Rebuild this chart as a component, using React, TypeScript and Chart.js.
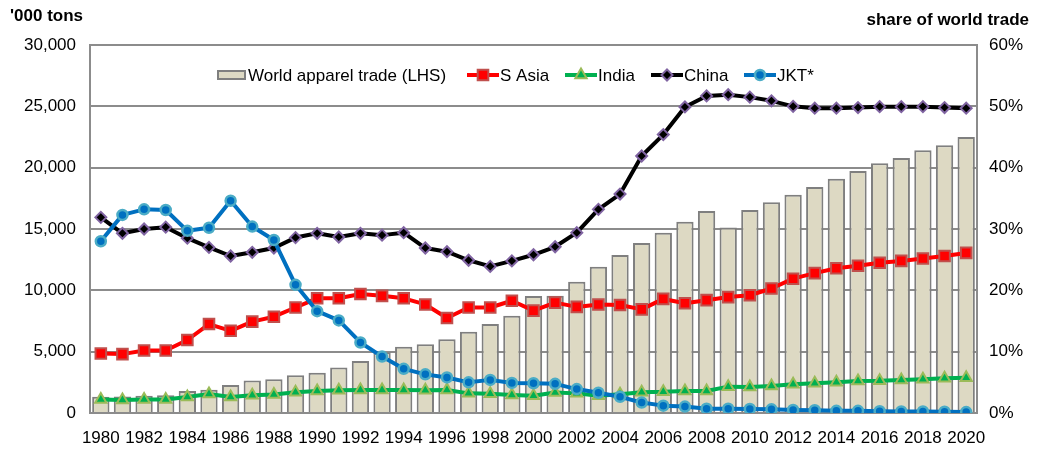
import React, { useEffect, useRef } from "react";
import { Chart, registerables } from "chart.js";

Chart.register(...registerables);

const FONT = '"Liberation Sans", Arial, Helvetica, sans-serif';

const years = [
  "1980", "1981", "1982", "1983", "1984", "1985", "1986", "1987", "1988", "1989",
  "1990", "1991", "1992", "1993", "1994", "1995", "1996", "1997", "1998", "1999",
  "2000", "2001", "2002", "2003", "2004", "2005", "2006", "2007", "2008", "2009",
  "2010", "2011", "2012", "2013", "2014", "2015", "2016", "2017", "2018", "2019", "2020",
];

const xTickYears = [
  "1980", "1982", "1984", "1986", "1988", "1990", "1992", "1994", "1996", "1998",
  "2000", "2002", "2004", "2006", "2008", "2010", "2012", "2014", "2016", "2018", "2020",
];

// World apparel trade, '000 tons (LHS)
const worldTrade = [
  1330, 1350, 1400, 1450, 1790, 1900, 2280, 2640, 2750, 3070,
  3290, 3700, 4240, 4950, 5400, 5600, 6010, 6630, 7260, 7930,
  9540, 9560, 10700, 11930, 12880, 13850, 14700, 15600, 16470, 15120,
  16550, 17190, 17800, 18420, 19100, 19730, 20350, 20790, 21410, 21820, 22500,
];

// Shares of world trade, % (RHS)
const sAsia = [
  9.7, 9.6, 10.2, 10.2, 11.9, 14.5, 13.4, 14.9, 15.7, 17.2,
  18.7, 18.7, 19.4, 19.1, 18.7, 17.7, 15.5, 17.2, 17.2, 18.3,
  16.7, 18.0, 17.3, 17.7, 17.6, 16.9, 18.6, 17.9, 18.4, 18.9,
  19.2, 20.3, 21.9, 22.8, 23.6, 24.0, 24.5, 24.8, 25.2, 25.6, 26.1,
];

const india = [
  2.2, 2.1, 2.2, 2.2, 2.6, 3.1, 2.6, 2.9, 3.0, 3.4,
  3.6, 3.7, 3.75, 3.75, 3.75, 3.7, 3.75, 3.2, 3.15, 2.95,
  2.8, 3.35, 3.2, 2.8, 3.05, 3.4, 3.45, 3.6, 3.6, 4.3,
  4.25, 4.4, 4.7, 4.85, 5.0, 5.2, 5.25, 5.4, 5.5, 5.65, 5.75,
];

const china = [
  31.9, 29.3, 30.0, 30.3, 28.5, 27.0, 25.6, 26.2, 26.9, 28.6,
  29.3, 28.7, 29.3, 29.0, 29.4, 26.9, 26.3, 24.9, 23.9, 24.8,
  25.8, 27.1, 29.4, 33.2, 35.7, 41.9, 45.4, 49.9, 51.7, 51.9,
  51.5, 50.9, 50.0, 49.7, 49.7, 49.8, 49.95, 49.95, 49.95, 49.8, 49.7,
];

const jkt = [
  28.0, 32.3, 33.2, 33.1, 29.7, 30.2, 34.6, 30.4, 28.2, 20.9,
  16.6, 15.1, 11.5, 9.2, 7.2, 6.3, 5.8, 5.0, 5.4, 4.9,
  4.85, 4.75, 3.9, 3.3, 2.65, 1.7, 1.2, 1.05, 0.7, 0.7,
  0.65, 0.6, 0.5, 0.45, 0.35, 0.35, 0.3, 0.25, 0.25, 0.2, 0.15,
];

const leftMax = 30000;
const leftStep = 5000;
const rightMax = 60;
const rightStep = 10;

const seriesNames = ["World apparel trade (LHS)", "S Asia", "India", "China", "JKT*"];

const BAR_FILL = "#DDD9C3";
const BAR_BORDER = "#7F7F7F";
const GRID = "#8C8C8C";

const lineStyles = [
  { line: "#FF0000", fill: "#FF0000", border: "#C0504D", shape: "square", r: 7.5, bw: 2 },
  { line: "#00B050", fill: "#00B050", border: "#9BBB59", shape: "triangle", r: 6.5, bw: 2 },
  { line: "#000000", fill: "#000000", border: "#8064A2", shape: "diamond", r: 5.5, bw: 2 },
  { line: "#0070C0", fill: "#0070C0", border: "#4BACC6", shape: "circle", r: 5, bw: 2.5 },
];

const pointStyleMap: Record<string, string> = {
  square: "rect",
  triangle: "triangle",
  diamond: "rectRot",
  circle: "circle",
};

function drawMarker(ctx: CanvasRenderingContext2D, shape: string, x: number, y: number, r: number) {
  ctx.beginPath();
  if (shape === "square") {
    const s = Math.SQRT1_2 * r;
    ctx.rect(x - s, y - s, 2 * s, 2 * s);
  } else if (shape === "diamond") {
    ctx.moveTo(x, y - r);
    ctx.lineTo(x + r, y);
    ctx.lineTo(x, y + r);
    ctx.lineTo(x - r, y);
    ctx.closePath();
  } else if (shape === "triangle") {
    const w = Math.sin(Math.PI * 2 / 3) * r;
    ctx.moveTo(x, y - r);
    ctx.lineTo(x + w, y + r / 2);
    ctx.lineTo(x - w, y + r / 2);
    ctx.closePath();
  } else {
    ctx.arc(x, y, r, 0, Math.PI * 2);
  }
}

const plotBorderPlugin = {
  id: "plotBorder",
  beforeDatasetsDraw(chart: any) {
    const { ctx, chartArea } = chart;
    ctx.save();
    ctx.strokeStyle = GRID;
    ctx.lineWidth = 2;
    ctx.strokeRect(chartArea.left, chartArea.top, chartArea.right - chartArea.left, chartArea.bottom - chartArea.top);
    ctx.restore();
  },
};

const legendStarts = [217, 467, 565, 651, 744];

const overlayPlugin = {
  id: "overlay",
  afterDraw(chart: any) {
    const ctx: CanvasRenderingContext2D = chart.ctx;
    ctx.save();
    // axis titles
    ctx.fillStyle = "#000";
    ctx.font = `bold 17px ${FONT}`;
    ctx.textBaseline = "alphabetic";
    ctx.textAlign = "left";
    ctx.fillText("'000 tons", 10, 21);
    ctx.textAlign = "right";
    ctx.fillText("share of world trade", 1029, 25);

    // legend
    const y = 75;
    ctx.font = `17px ${FONT}`;
    ctx.textBaseline = "middle";
    ctx.textAlign = "left";
    seriesNames.forEach((name, i) => {
      let x = legendStarts[i];
      if (i === 0) {
        ctx.fillStyle = BAR_FILL;
        ctx.fillRect(x, y - 5, 29, 10);
        ctx.strokeStyle = BAR_BORDER;
        ctx.lineWidth = 2;
        ctx.strokeRect(x + 1, y - 4, 27, 8);
        x += 31;
      } else {
        const st = lineStyles[i - 1];
        ctx.strokeStyle = st.line;
        ctx.lineWidth = 4;
        ctx.beginPath();
        ctx.moveTo(x, y);
        ctx.lineTo(x + 32, y);
        ctx.stroke();
        drawMarker(ctx, st.shape, x + 16, y, st.r);
        ctx.fillStyle = st.fill;
        ctx.fill();
        ctx.lineWidth = st.bw;
        ctx.strokeStyle = st.border;
        ctx.stroke();
        x += 33;
      }
      ctx.fillStyle = "#000";
      ctx.fillText(name, x, y + 1);
    });
    ctx.restore();
  },
};

export default function App() {
  const canvasRef = useRef<HTMLCanvasElement | null>(null);

  useEffect(() => {
    document.body.style.margin = "0";
    if (!canvasRef.current) return;
    Chart.defaults.font.family = FONT;
    Chart.defaults.font.size = 17;
    Chart.defaults.color = "#000";

    const lineData = [sAsia, india, china, jkt];
    const lineDatasets = lineData.map((d, i) => {
      const st = lineStyles[i];
      return {
        type: "line" as const,
        label: seriesNames[i + 1],
        data: d,
        yAxisID: "y1",
        borderColor: st.line,
        borderWidth: 4,
        borderJoinStyle: "round" as const,
        borderCapStyle: "round" as const,
        tension: 0,
        fill: false,
        pointStyle: pointStyleMap[st.shape],
        pointRadius: st.r,
        pointBackgroundColor: st.fill,
        pointBorderColor: st.border,
        pointBorderWidth: st.bw,
        order: 4 - i,
      };
    });

    const chart = new Chart(canvasRef.current, {
      data: {
        labels: years,
        datasets: [
          ...lineDatasets,
          {
            type: "bar" as const,
            label: seriesNames[0],
            data: worldTrade,
            yAxisID: "y",
            backgroundColor: BAR_FILL,
            borderColor: BAR_BORDER,
            borderWidth: 2,
            categoryPercentage: 1,
            barPercentage: 0.8,
            order: 10,
          },
        ] as any,
      },
      options: {
        responsive: true,
        maintainAspectRatio: false,
        animation: false,
        layout: { padding: { top: 45, left: 0, right: 0, bottom: 0 } },
        plugins: {
          legend: { display: false },
          tooltip: { enabled: false },
          title: { display: false },
        },
        scales: {
          x: {
            type: "category",
            offset: true,
            grid: { display: false, drawTicks: false },
            border: { display: false },
            ticks: {
              autoSkip: false,
              maxRotation: 0,
              minRotation: 0,
              padding: 15,
              color: "#000",
              font: { size: 17, family: FONT },
              callback: (_v: any, i: number) => (xTickYears.includes(years[i]) ? years[i] : ""),
            },
            afterFit: (s: any) => {
              s.height = 37;
            },
          },
          y: {
            position: "left",
            min: 0,
            max: leftMax,
            grid: { color: GRID, lineWidth: 2, drawTicks: false },
            border: { display: false },
            ticks: {
              stepSize: leftStep,
              padding: 14,
              color: "#000",
              font: { size: 17, family: FONT },
              callback: (v: any) => Number(v).toLocaleString("en-US"),
            },
            afterFit: (s: any) => {
              s.width = 90;
            },
          },
          y1: {
            position: "right",
            min: 0,
            max: rightMax,
            grid: { display: false, drawTicks: false },
            border: { display: false },
            ticks: {
              stepSize: rightStep,
              padding: 12,
              color: "#000",
              font: { size: 17, family: FONT },
              callback: (v: any) => `${v}%`,
            },
            afterFit: (s: any) => {
              s.width = 65;
            },
          },
        },
      } as any,
      plugins: [plotBorderPlugin, overlayPlugin],
    });

    return () => chart.destroy();
  }, []);

  return (
    <div style={{ position: "relative", width: 1042, height: 450 }}>
      <canvas ref={canvasRef} />
    </div>
  );
}
